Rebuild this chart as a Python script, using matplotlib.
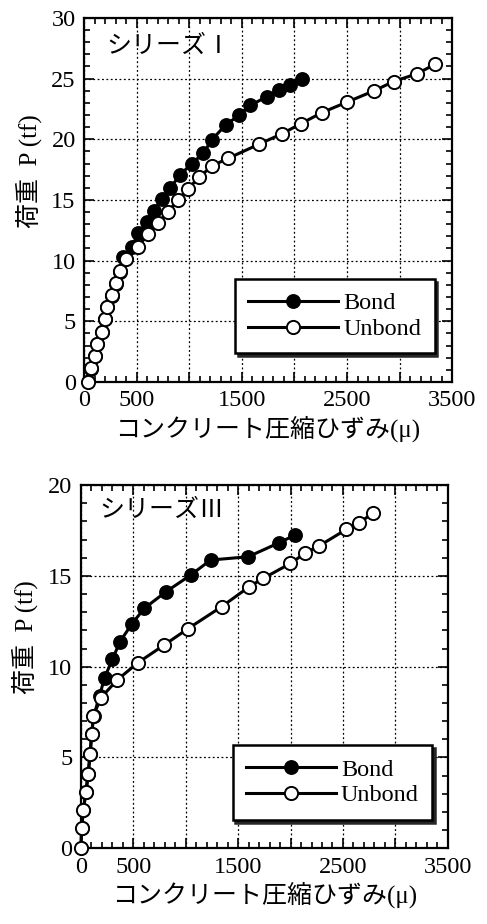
import numpy as np
import matplotlib
matplotlib.use('Agg')
import matplotlib.pyplot as plt
from matplotlib.ticker import MultipleLocator, FixedLocator, FixedFormatter

plt.rcParams['font.family'] = ['Liberation Serif', 'Noto Sans CJK JP']

# --- data ---
# series I
s1_bond_x = [30, 63, 100, 128, 170, 195, 222, 263, 305, 345, 374, 454, 517, 597, 666, 739, 818,
             913, 1025, 1135, 1215, 1348, 1478, 1580, 1738, 1849, 1960, 2077]
s1_bond_y = [0, 1.1, 2.1, 3.1, 4.1, 5.2, 6.2, 7.1, 8.1, 9.1, 10.3, 11.15, 12.26, 13.2, 14.12, 15.09,
             15.97, 17.07, 18.0, 18.85, 19.95, 21.2, 22.0, 22.8, 23.5, 24.07, 24.5, 25.0]
s1_unb_x = [35, 63, 102, 128, 172, 198, 222, 263, 306, 340, 403, 511, 612, 701, 802, 891, 987,
            1094, 1221, 1373, 1665, 1881, 2065, 2262, 2499, 2759, 2943, 3165, 3339]
s1_unb_y = [0, 1.12, 2.15, 3.15, 4.15, 5.18, 6.2, 7.13, 8.14, 9.12, 10.1, 11.15, 12.2, 13.12, 14.04,
            15.0, 15.9, 16.87, 17.83, 18.44, 19.6, 20.45, 21.3, 22.2, 23.06, 24.0, 24.76, 25.4, 26.19]

# series III
s3_bond_x = [0, 10, 25, 50, 70, 90, 105, 125, 180, 228, 302, 374, 486, 606, 812, 1048, 1238,
             1596, 1891, 2041]
s3_bond_y = [0, 1.1, 2.1, 3.1, 4.1, 5.2, 6.3, 7.3, 8.4, 9.4, 10.4, 11.37, 12.34, 13.21, 14.12,
             15.04, 15.87, 16.05, 16.82, 17.24]
s3_unb_x = [0, 9, 25, 50, 73, 89, 105, 120, 195, 346, 546, 790, 1025, 1343, 1606, 1739, 1999,
            2136, 2270, 2533, 2650, 2787]
s3_unb_y = [0, 1.1, 2.1, 3.1, 4.1, 5.2, 6.3, 7.3, 8.3, 9.26, 10.22, 11.17, 12.1, 13.3, 14.4,
            14.86, 15.68, 16.24, 16.64, 17.56, 17.92, 18.44]

x_ticks = [0, 500, 1000, 1500, 2000, 2500, 3000, 3500]
x_ticklabels = ['0', '500', '', '1500', '', '2500', '', '3500']

xlabel = 'コンクリート圧縮ひずみ(μ)'
ylabel = '荷重  P (tf)'

fig = plt.figure(figsize=(4.87, 9.24), dpi=100)


def make_panel(rect, bx, by, ux, uy, ymax, title, title_pos, leg_anchor):
    ax = fig.add_axes(rect)
    ax.plot(bx, by, '-o', color='k', lw=2.2, ms=9.5, mfc='k', mec='k', mew=1.2,
            label='Bond', zorder=3)
    ax.plot(ux, uy, '-o', color='k', lw=2.2, ms=9.5, mfc='w', mec='k', mew=1.4,
            label='Unbond', zorder=4, clip_on=False)
    ax.set_xlim(0, 3500)
    ax.set_ylim(0, ymax)
    ax.xaxis.set_major_locator(FixedLocator(x_ticks))
    ax.xaxis.set_major_formatter(FixedFormatter(x_ticklabels))
    ax.xaxis.set_minor_locator(MultipleLocator(100))
    ax.yaxis.set_major_locator(MultipleLocator(5))
    ax.yaxis.set_minor_locator(MultipleLocator(1))
    ax.tick_params(which='both', direction='in', top=True, right=True, labelsize=17.5,
                   width=1.2, colors='k')
    ax.tick_params(which='major', length=7, pad=6)
    ax.tick_params(which='minor', length=4)
    ax.grid(True, which='major', ls=(0, (1.5, 2)), color='k', lw=0.9)
    for sp in ax.spines.values():
        sp.set_linewidth(1.6)
    ax.set_xlabel(xlabel, fontsize=18, labelpad=3)
    ax.set_ylabel(ylabel, fontsize=18)
    ax.yaxis.set_label_coords(-0.115, 0.58)
    ax.text(title_pos[0], title_pos[1], title, transform=ax.transAxes, fontsize=18,
            va='center', ha='left')
    leg = ax.legend(loc='lower right', bbox_to_anchor=leg_anchor, fontsize=17.5,
                    frameon=True, fancybox=False, edgecolor='k', handlelength=3.7,
                    borderpad=0.55, labelspacing=0.15, handletextpad=0.2,
                    shadow={'color': '0.15', 'alpha': 1})
    leg.get_frame().set_linewidth(1.8)
    leg.set_zorder(10)
    return ax


make_panel([0.1725, 0.5866, 0.756, 0.394], s1_bond_x, s1_bond_y, s1_unb_x, s1_unb_y, 30,
           'シリーズⅠ', (0.06, 0.92), (0.985, 0.045))
make_panel([0.1657, 0.0819, 0.754, 0.3932], s3_bond_x, s3_bond_y, s3_unb_x, s3_unb_y, 20,
           'シリーズⅢ', (0.05, 0.93), (0.99, 0.045))

fig.savefig('out.png', dpi=100, facecolor='w')
